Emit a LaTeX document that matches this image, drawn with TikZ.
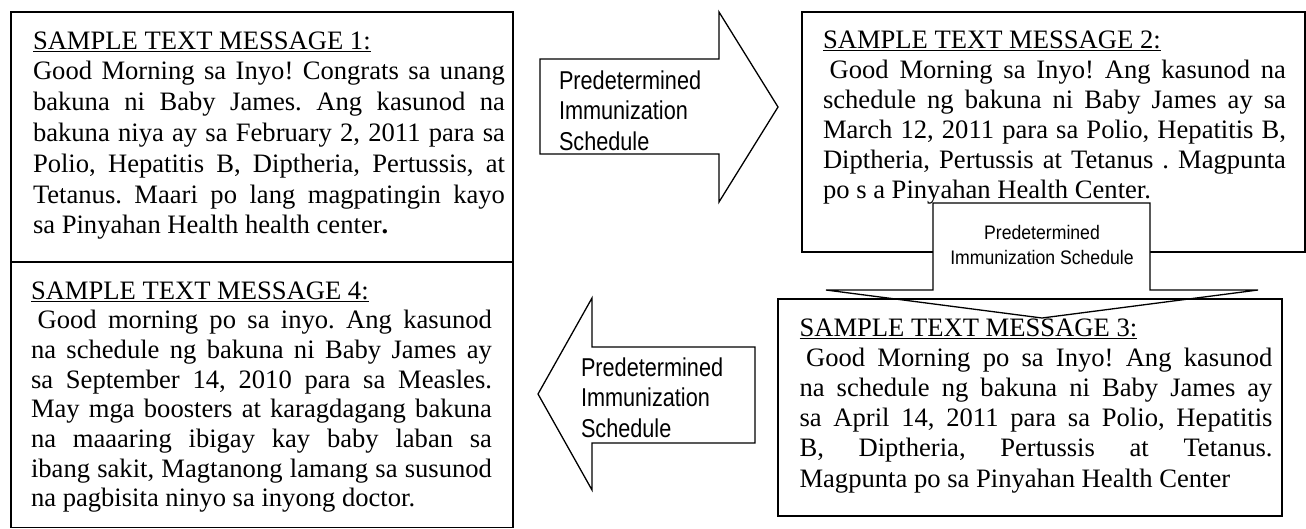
\documentclass[tikz,border=0pt]{standalone}
\usepackage{fontspec}
\setmainfont{Liberation Serif}
\newfontfamily\arialn[FakeStretch=0.84]{Liberation Sans}
\newfontfamily\arialm[FakeStretch=0.9]{Liberation Sans}
\frenchspacing
\newcommand\jline[1]{\hbox to \hsize{#1}}
\newcommand\rline[1]{\hbox{#1}}
\newcommand\ctrline[1]{\hbox to \hsize{\hfil#1\hfil}}
\newcommand\ulttl[1]{\setbox0=\hbox{#1}\rlap{\rule[-3pt]{\wd0}{1.3pt}}\box0}
\newcommand\msgfont[1]{\fontsize{26.6}{#1}\selectfont\lineskiplimit=-100pt\relax}
\newcommand\labfont[2]{\arialn\fontsize{#1}{#2}\selectfont\lineskiplimit=-100pt\relax}
\newcommand\smlabfont[2]{\arialm\fontsize{#1}{#2}\selectfont\lineskiplimit=-100pt\relax}
\begin{document}
\begin{tikzpicture}[x=1pt,y=-1pt,
  frame/.style={draw=black,line width=1.3pt},
  blockarrow/.style={draw=black,fill=white,line width=1.3pt,line join=miter},
  txt/.style={anchor=base west,inner sep=0pt,outer sep=0pt}]
\useasboundingbox[fill=white] (0,0) rectangle (1306,528);

% message boxes 1, 4, 2
\draw[frame] (11,12) rectangle (513,262);
\draw[frame] (11,262) rectangle (513,527.3);
\draw[frame] (802,12) rectangle (1305,252);

\node[txt] (m1) at (33,49) {\parbox[t]{472pt}{\msgfont{30.8}%
\rline{\ulttl{SAMPLE TEXT MESSAGE 1:}}
\jline{Good Morning sa Inyo! Congrats sa unang}
\jline{bakuna ni Baby James. Ang kasunod na}
\jline{bakuna niya ay sa February 2, 2011 para sa}
\jline{Polio, Hepatitis B, Diptheria, Pertussis, at}
\jline{Tetanus. Maari po lang magpatingin kayo}
\rline{sa Pinyahan Health health center\textbf{.}}}};

\node[txt] (m4) at (31,299) {\parbox[t]{461pt}{\msgfont{29.7}%
\rline{\ulttl{SAMPLE TEXT MESSAGE 4:}}
\jline{\kern6.6pt Good morning po sa inyo. Ang kasunod}
\jline{na schedule ng bakuna ni Baby James ay}
\jline{sa September 14, 2010 para sa Measles.}
\jline{May mga boosters at karagdagang bakuna}
\jline{na maaaring ibigay kay baby laban sa}
\jline{ibang sakit, Magtanong lamang sa susunod}
\rline{na pagbisita ninyo sa inyong doctor.}}};

\node[txt] (m2) at (823,48) {\parbox[t]{463pt}{\msgfont{30}%
\rline{\ulttl{SAMPLE TEXT MESSAGE 2:}}
\jline{\kern6.6pt Good Morning sa Inyo! Ang kasunod na}
\jline{schedule ng bakuna ni Baby James ay sa}
\jline{March 12, 2011 para sa Polio, Hepatitis B,}
\jline{Diptheria, Pertussis at Tetanus . Magpunta}
\rline{po s a Pinyahan Health Center.}}};

% down arrow (over box 2)
\draw[blockarrow] (933,203) -- (1150,203) -- (1150,290) -- (1258,290)
  -- (1042,318) -- (826,290) -- (933,290) -- cycle;
\node[txt] (l2) at (942,239) {\parbox[t]{200pt}{\smlabfont{19.6}{25}%
\ctrline{Predetermined}
\ctrline{Immunization Schedule}}};

% message box 3
\draw[frame] (778,299) rectangle (1282,516);
\node[txt] (m3) at (799.5,336) {\parbox[t]{473pt}{\msgfont{30.2}%
\rline{\ulttl{SAMPLE TEXT MESSAGE 3:}}
\jline{\kern6.6pt Good Morning po sa Inyo! Ang kasunod}
\jline{na schedule ng bakuna ni Baby James ay}
\jline{sa April 14, 2011 para sa Polio, Hepatitis}
\jline{B, Diptheria, Pertussis at Tetanus.}
\rline{Magpunta po sa Pinyahan Health Center}}};

% right arrow
\draw[blockarrow] (540,59) -- (719,59) -- (719,12) -- (778,107)
  -- (719,202) -- (719,154) -- (540,154) -- cycle;
\node[txt] (l1) at (559,89) {\parbox[t]{150pt}{\labfont{25.8}{30.5}%
\rline{Predetermined}
\rline{Immunization}
\rline{Schedule}}};

% left arrow
\draw[blockarrow] (538,394) -- (592,298) -- (592,347) -- (755,347)
  -- (755,443) -- (592,443) -- (592,490) -- cycle;
\node[txt] (l3) at (581,376) {\parbox[t]{150pt}{\labfont{25.8}{30.5}%
\rline{Predetermined}
\rline{Immunization}
\rline{Schedule}}};
\end{tikzpicture}
\end{document}
